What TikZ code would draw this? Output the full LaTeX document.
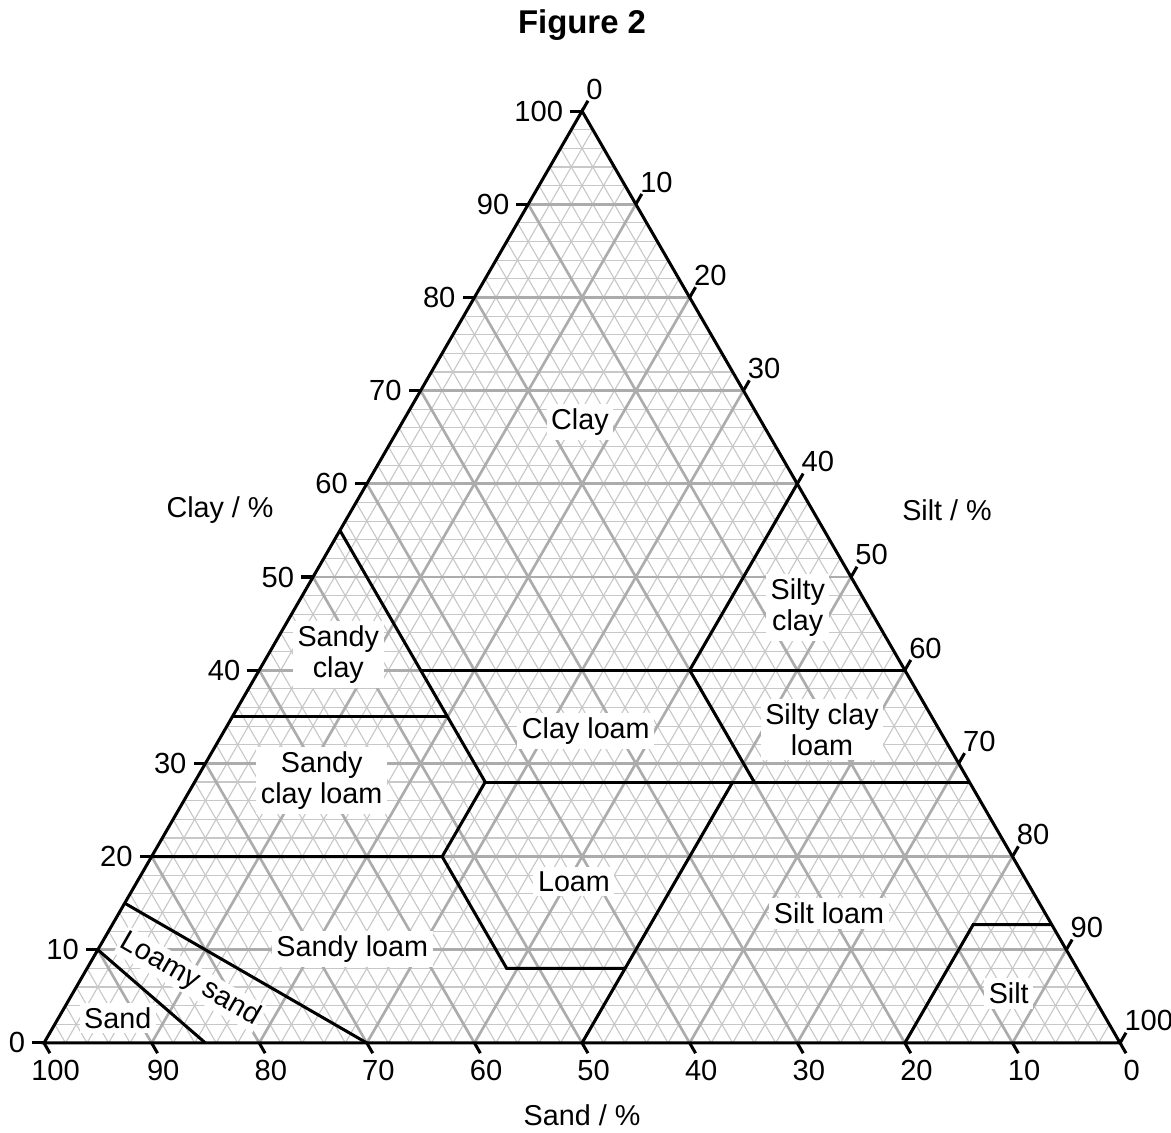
\documentclass[tikz,border=0pt]{standalone}
\usepackage{fontspec}
\setmainfont{Liberation Sans}
\usetikzlibrary{positioning,calc}
\definecolor{MinorGray}{RGB}{200,200,200}
\definecolor{MajorGray}{RGB}{172,172,172}
\tikzset{minorgrid/.style={draw=MinorGray,line width=0.3pt}, majorgrid/.style={draw=MajorGray,line width=0.7pt}, frame/.style={draw=black,line width=0.8pt}, bound/.style={draw=black,line width=0.8pt}, zone/.style={fill=white,inner sep=1.2pt,align=center,font=\fontsize{7.6}{8.2}\selectfont}, num/.style={inner sep=1.5pt,font=\fontsize{7.7}{8}\selectfont}, axlab/.style={font=\fontsize{7.6}{9}\selectfont}}

\begin{document}
\begin{tikzpicture}[x={(0.1cm,0cm)},y={(0.05cm,0.0866025cm)}]
\useasboundingbox (-0.409cm,-0.836cm) rectangle (10.474cm,9.693cm);
% corners: (silt, clay)
\coordinate (sa) at (0,0);
\coordinate (si) at (100,0);
\coordinate (cl) at (0,100);
% grid
\foreach \k in {2,4,...,98}{
  \draw[minorgrid] (0,\k) -- ({100-\k},\k);
  \draw[minorgrid] (\k,0) -- (\k,{100-\k});
  \draw[minorgrid] (\k,0) -- (0,\k);
}
\foreach \k in {10,20,...,90}{
  \draw[majorgrid] (0,\k) -- ({100-\k},\k);
  \draw[majorgrid] (\k,0) -- (\k,{100-\k});
  \draw[majorgrid] (\k,0) -- (0,\k);
}
% class corners
\coordinate (sc1) at (0,55);
\coordinate (sc2) at (15,40);
\coordinate (sc3) at (20,35);
\coordinate (sc4) at (27,28);
\coordinate (scl) at (0,35);
\coordinate (cl1) at (40,40);
\coordinate (sic) at (40,60);
\coordinate (cl2) at (60,40);
\coordinate (cl3) at (52,28);
\coordinate (cl4) at (72,28);
\coordinate (sl1) at (0,20);
\coordinate (lo1) at (27,20);
\coordinate (lo2) at (39,8);
\coordinate (lo3) at (50,8);
\coordinate (lo4) at (50,28);
\coordinate (lo5) at (50,0);
\coordinate (st1) at (80,0);
\coordinate (st2) at (80,12.7);
\coordinate (st3) at (87.3,12.7);
\coordinate (ls1) at (0,15);
\coordinate (ls2) at (30,0);
\coordinate (sd1) at (0,10);
\coordinate (sd2) at (15,0);
% class boundaries
\draw[bound] (sc1) -- (sc2) -- (sc3) -- (sc4);
\draw[bound] (sc2) -- (cl1) -- (cl2);
\draw[bound] (sic) -- (cl1) -- (cl3);
\draw[bound] (scl) -- (sc3);
\draw[bound] (sc4) -- (cl3) -- (cl4);
\draw[bound] (sc4) -- (lo1);
\draw[bound] (sl1) -- (lo1) -- (lo2) -- (lo3);
\draw[bound] (lo4) -- (lo5);
\draw[bound] (st1) -- (st2) -- (st3);
\draw[bound] (ls1) -- (ls2);
\draw[bound] (sd1) -- (sd2);
% outline
\draw[frame] (sa) -- (si) -- (cl) -- cycle;
% ticks
\foreach \k in {0,10,...,100}{
  \pgfmathtruncatemacro\r{100-\k}
  \draw[frame] (0,\k) -- ++(-1.1,0) node[num,anchor=east] (cn\k) {\k};
  \draw[frame] (\k,\r) -- ++(0,1.1) node[num,anchor=south west,inner sep=0pt,xshift=-0.8pt] (tn\k) {\k};
  \draw[frame] (\r,0) -- ++(1.1,-1.1) node[num,anchor=north,xshift=1.5pt] (sn\k) {\k};
}
% classes
\node[zone] (clay) at (16.5,66.6) {Clay};
\node[zone] (siltyclay) at (46.7,46.7) {Silty\\clay};
\node[zone] (sandyclay) at (6.5,41.7) {Sandy\\clay};
\node[zone] (clayloam) at (33.6,33.5) {Clay loam};
\node[zone] (siltyclayloam) at (55.5,33.6) {Silty clay\\loam};
\node[zone] (sandyclayloam) at (11.7,28.2) {Sandy\\clay loam};
\node[zone] (loam) at (40.6,17.3) {Loam};
\node[zone] (siltloam) at (66,13.9) {Silt loam};
\node[zone] (sandyloam) at (23.6,10.1) {Sandy loam};
\node[zone,rotate=-30,inner sep=0.5pt] (loamysand) at (10.2,6.8) {Loamy sand};
\node[zone] (sand) at (5.5,2.7) {Sand};
\node[zone] (silt) at (87,5.3) {Silt};
% axis titles
\node[axlab] (claylab) at (1.636cm,4.954cm) {Clay / \%};
\node[axlab] (siltlab) at (8.392cm,4.954cm) {Silt / \%};
\node[axlab] (sandlab) at (5.0cm,-0.669cm) {Sand / \%};
\node[font=\fontsize{8.7}{10}\selectfont\bfseries] (title) at (5.0cm,9.461cm) {Figure 2};
\end{tikzpicture}
\end{document}
